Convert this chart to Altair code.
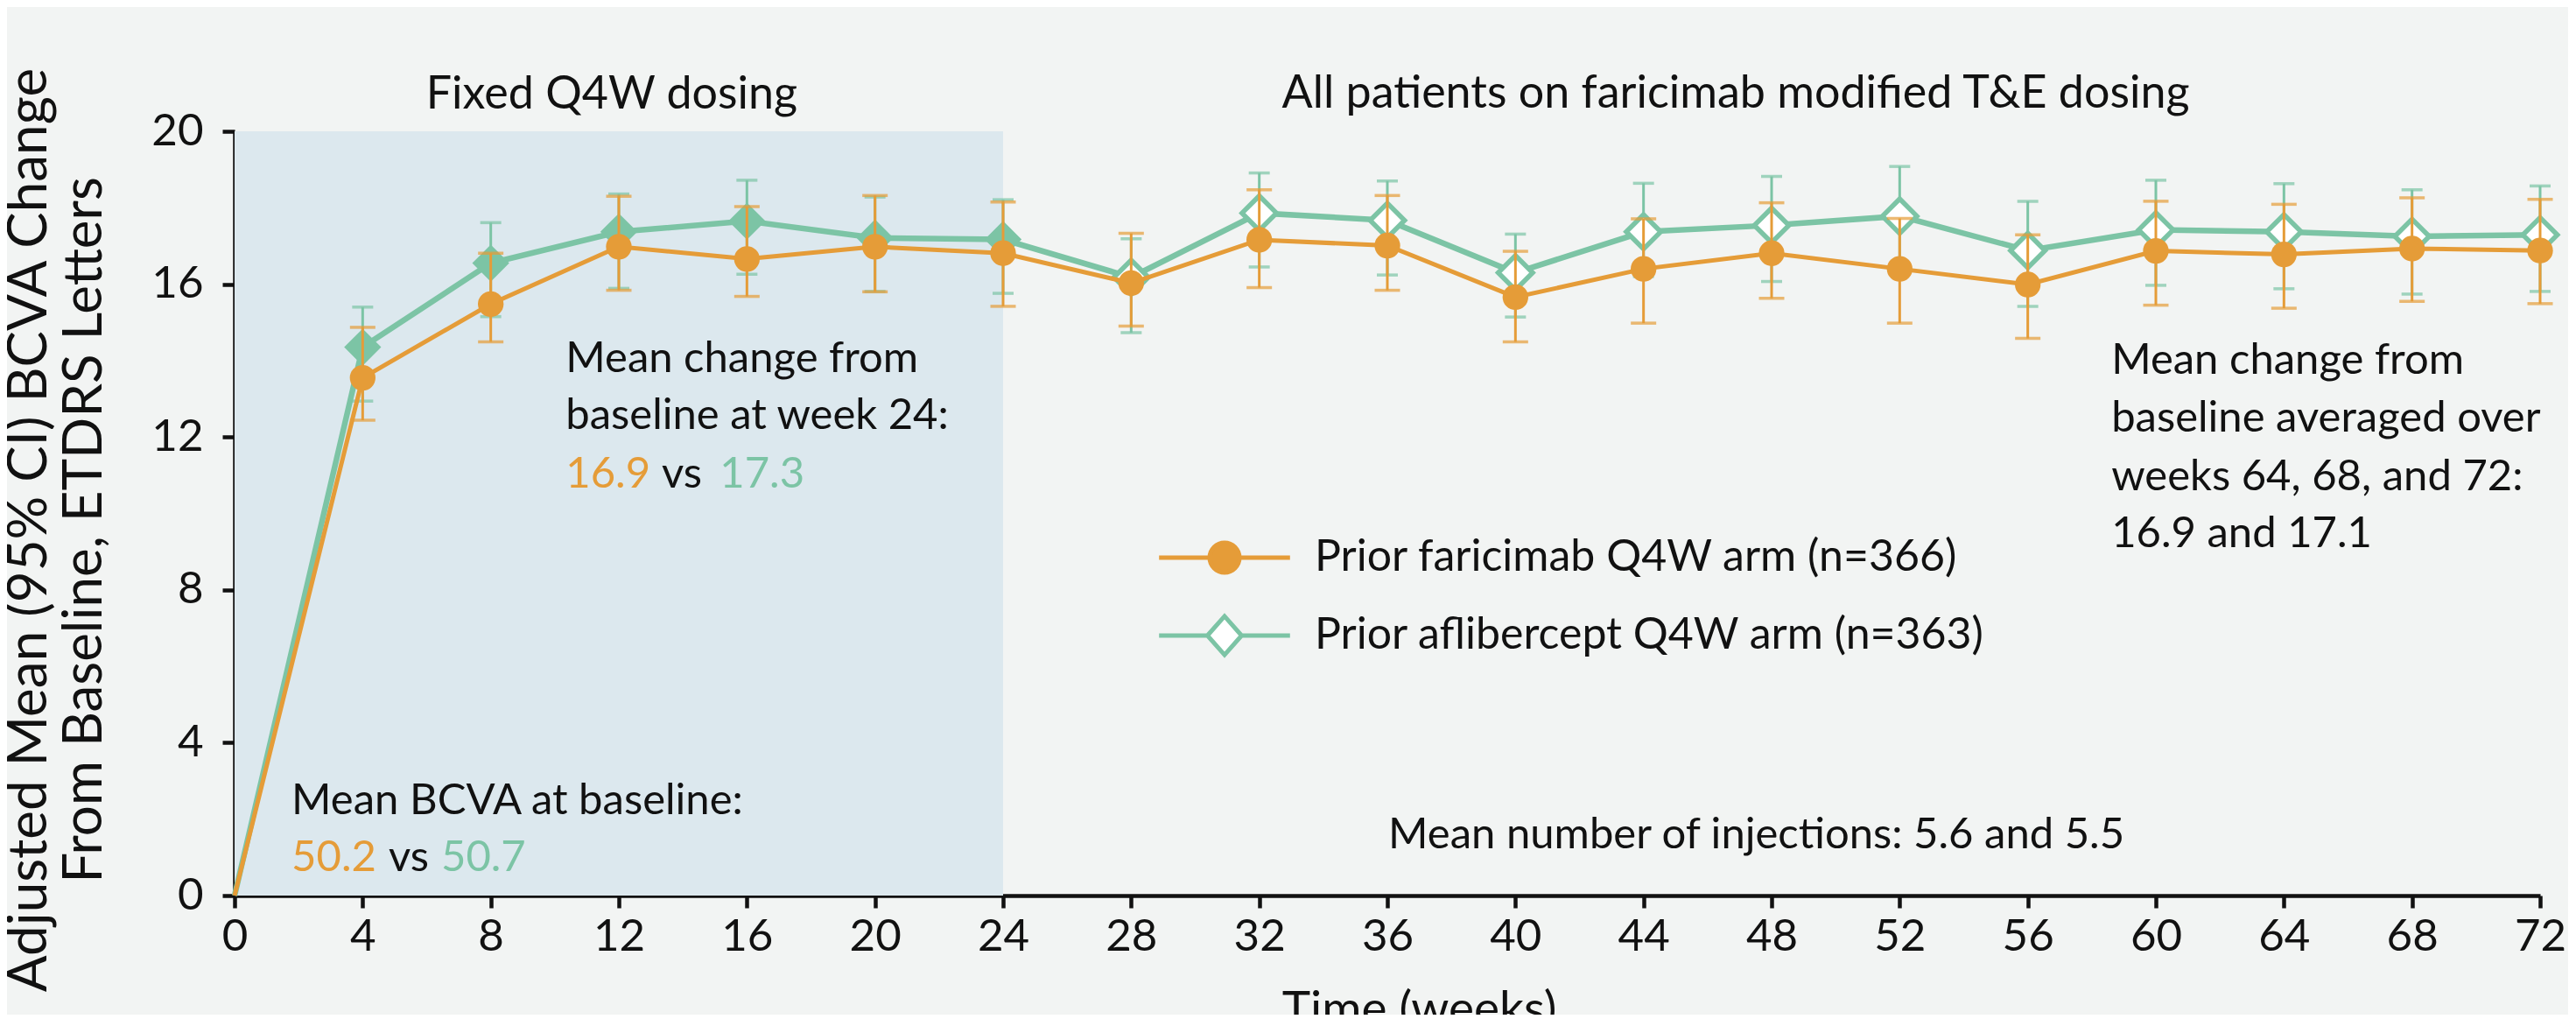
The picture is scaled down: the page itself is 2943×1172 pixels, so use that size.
import math
import altair as alt
import pandas as pd

# ---------------- data ----------------
weeks = [0, 4, 8, 12, 16, 20, 24, 28, 32, 36, 40, 44, 48, 52, 56, 60, 64, 68, 72]

fari_mean = [0, 13.55, 15.48, 16.98, 16.66, 16.98, 16.81, 16.03, 17.16, 17.01, 15.66, 16.40, 16.81, 16.40, 15.99, 16.87, 16.78, 16.93, 16.88]
fari_lo = [None, 12.44, 14.49, 15.84, 15.68, 15.80, 15.42, 14.90, 15.91, 15.84, 14.49, 14.98, 15.63, 14.98, 14.58, 15.45, 15.37, 15.55, 15.49]
fari_hi = [None, 14.87, 16.81, 18.30, 18.03, 18.32, 18.15, 17.33, 18.47, 18.32, 16.86, 17.71, 18.13, 17.72, 17.29, 18.17, 18.09, 18.26, 18.22]

afli_mean = [0, 14.35, 16.55, 17.37, 17.65, 17.21, 17.17, 16.18, 17.86, 17.67, 16.30, 17.37, 17.54, 17.78, 16.88, 17.42, 17.37, 17.25, 17.29]
afli_lo = [None, 12.94, 15.15, 15.89, 16.26, 15.81, 15.76, 14.73, 16.45, 16.24, 15.14, 16.20, 16.07, 16.45, 15.42, 15.97, 15.88, 15.74, 15.81]
afli_hi = [None, 15.40, 17.61, 18.36, 18.72, 18.28, 18.21, 17.19, 18.91, 18.70, 17.31, 18.64, 18.82, 19.08, 18.17, 18.72, 18.63, 18.47, 18.57]

FARI = "Prior faricimab Q4W arm (n=366)"
AFLI = "Prior aflibercept Q4W arm (n=363)"
series_names = [FARI, AFLI]

fixed_phase = [0, 24]          # weeks of fixed Q4W dosing
y_range = [0, 20]

ann_black_text = ["Mean change from", "baseline at week 24:", "vs",
                  "Mean BCVA at baseline:", "vs",
                  "Mean number of injections: 5.6 and 5.5",
                  "Mean change from", "baseline averaged over",
                  "weeks 64, 68, and 72:", "16.9 and 17.1"]
ann_black_x = [10.34, 10.34, 13.34, 1.78, 4.81, 36.03, 58.61, 58.61, 58.61, 58.61]
ann_black_y = [13.70, 12.21, 10.68, 2.12, 0.64, 1.24, 13.65, 12.14, 10.61, 9.12]

ann_col_text = ["16.9", "17.3", "50.2", "50.7"]
ann_col_x = [10.34, 15.15, 1.78, 6.45]
ann_col_y = [10.68, 10.68, 0.64, 0.64]
ann_col_series = [FARI, AFLI, FARI, AFLI]

head_text = ["Fixed Q4W dosing", "All patients on faricimab modified T&E dosing"]
head_x = [11.78, 46.88]
head_y = [20.60, 20.62]

# ---------------- styling ----------------
ORANGE = "#e59c38"
TEAL = "#7cc4a5"
SHADE = "#dce8ee"
BG = "#f2f4f3"
INK = "#111111"
FONT = "Lato"

rows = []
for i, w in enumerate(weeks):
    rows.append(dict(week=w, series=FARI, mean=fari_mean[i], lo=fari_lo[i], hi=fari_hi[i]))
    rows.append(dict(week=w, series=AFLI, mean=afli_mean[i], lo=afli_lo[i], hi=afli_hi[i]))
df = pd.DataFrame(rows)

shade_df = pd.DataFrame({"x0": [fixed_phase[0]], "x1": [fixed_phase[1]],
                         "y0": [y_range[0]], "y1": [y_range[1]]})
black_df = pd.DataFrame({"text": ann_black_text, "x": ann_black_x, "y": ann_black_y})
col_df = pd.DataFrame({"text": ann_col_text, "x": ann_col_x, "y": ann_col_y, "series": ann_col_series})
head_df = pd.DataFrame({"text": head_text, "x": head_x, "y": head_y})

xscale = alt.Scale(domain=[0, 72], nice=False, zero=False)
yscale = alt.Scale(domain=y_range, nice=False)

xaxis = alt.Axis(values=list(range(0, 73, 4)), format="d", grid=False,
                 domainColor=INK, domainWidth=4.5, tickColor=INK, tickWidth=4.5, tickSize=14,
                 labelFont=FONT, labelFontSize=51, labelColor=INK, labelPadding=8,
                 labelOverlap=False, labelFlush=False,
                 title="Time (weeks)", titleFont=FONT, titleFontSize=55, titleFontWeight="normal",
                 titleColor=INK, titleX=1353, titleY=104, titleBaseline="top", titleAlign="center")
yaxis = alt.Axis(values=[0, 4, 8, 12, 16, 20], format="d", grid=False,
                 domainColor=INK, domainWidth=4.5, tickColor=INK, tickWidth=4.5, tickSize=14,
                 labelFont=FONT, labelFontSize=51, labelColor=INK, labelPadding=22,
                 labelOverlap=False, labelFlush=False,
                 title=["Adjusted Mean (95% CI) BCVA Change", "From Baseline, ETDRS Letters"],
                 titleFont=FONT, titleFontSize=62, titleFontWeight="normal", titleColor=INK,
                 titleLineHeight=63, titleAngle=270, titleX=-235, titleY=455,
                 titleBaseline="middle", titleAlign="center")


def X(field):
    return alt.X(field, type="quantitative", scale=xscale, axis=xaxis)


def Y(field):
    return alt.Y(field, type="quantitative", scale=yscale, axis=yaxis)


base = alt.Chart(df)

shade = alt.Chart(shade_df).mark_rect(color=SHADE).encode(
    x=X("x0"), x2="x1", y=Y("y0"), y2="y1")


def series_layers(name, color, line_w, cap):
    sub = base.transform_filter(alt.datum.series == name)
    line = sub.mark_line(color=color, strokeWidth=line_w).encode(x=X("week"), y=Y("mean"))
    ci = sub.transform_filter(alt.datum.week > 0)
    rule = ci.mark_rule(color=color, strokeWidth=3).encode(x=X("week"), y=Y("lo"), y2="hi")
    cap_lo = ci.mark_tick(color=color, orient="horizontal", size=cap, thickness=3.5).encode(
        x=X("week"), y=Y("lo"))
    cap_hi = ci.mark_tick(color=color, orient="horizontal", size=cap, thickness=3.5).encode(
        x=X("week"), y=Y("hi"))
    return line, rule, cap_lo, cap_hi, ci


t_line, t_rule, t_lo, t_hi, t_ci = series_layers(AFLI, TEAL, 6.5, 24)
o_line, o_rule, o_lo, o_hi, o_ci = series_layers(FARI, ORANGE, 5, 29)

t_open = t_ci.transform_filter(alt.datum.week > 24).mark_point(
    shape="diamond", filled=True, fill="white", stroke=TEAL, strokeWidth=5.5, size=1550, opacity=1
).encode(x=X("week"), y=Y("mean"))
t_full = t_ci.transform_filter(alt.datum.week <= 24).mark_point(
    shape="diamond", filled=True, fill=TEAL, stroke=TEAL, strokeWidth=3, size=1450, opacity=1
).encode(x=X("week"), y=Y("mean"))
o_pts = o_ci.mark_point(shape="circle", filled=True, color=ORANGE, size=860, opacity=1).encode(
    x=X("week"), y=Y("mean"))

# legend symbols: a line with the series marker on it (unit path, scaled by symbolSize)
circ = "".join(("M" if k == 0 else "L") + f"{math.cos(2 * math.pi * k / 32):.3f},{math.sin(2 * math.pi * k / 32):.3f}"
               for k in range(32)) + "Z"
PATH_F = "M-4.4,0L4.4,0" + circ
PATH_A = "M-4.4,0L-1.15,0M1.15,0L4.4,0M-1.15,0L0,-1.3L1.15,0L0,1.3Z"


def leg():
    return alt.Legend(orient="none", legendX=1106, legendY=462, title=None,
                      labelFont=FONT, labelFontSize=50, labelColor=INK, labelLimit=3000,
                      symbolOffset=0, labelOffset=78, rowPadding=29, padding=0,
                      symbolStrokeWidth=5, symbolSize=1156, symbolOpacity=1)


legend_layer = o_ci.mark_point(filled=True, strokeWidth=5, opacity=0, size=1).encode(
    x=X("week"), y=Y("mean"),
    shape=alt.Shape("series:N", scale=alt.Scale(domain=series_names, range=[PATH_F, PATH_A]), legend=leg()),
    fill=alt.Fill("series:N", scale=alt.Scale(domain=series_names, range=[ORANGE, "white"]), legend=leg()),
    stroke=alt.Stroke("series:N", scale=alt.Scale(domain=series_names, range=[ORANGE, TEAL]), legend=leg()),
)

black_txt = alt.Chart(black_df).mark_text(font=FONT, fontSize=49, color=INK, align="left",
                                          baseline="alphabetic").encode(
    x=X("x"), y=Y("y"), text="text:N")


def col_txt(name, color):
    return alt.Chart(col_df).transform_filter(alt.datum.series == name).mark_text(
        font=FONT, fontSize=49, align="left", baseline="alphabetic", color=color).encode(
        x=X("x"), y=Y("y"), text="text:N")


head_txt = alt.Chart(head_df).mark_text(font=FONT, fontSize=52, color=INK, align="center",
                                        baseline="alphabetic").encode(
    x=X("x"), y=Y("y"), text="text:N")

chart = alt.layer(
    shade, t_line, t_rule, t_lo, t_hi, t_open, t_full,
    o_line, o_rule, o_lo, o_hi, o_pts,
    black_txt, col_txt(FARI, ORANGE), col_txt(AFLI, TEAL), head_txt, legend_layer
).properties(
    width=2634, height=873,
    autosize=alt.AutoSizeParams(type="none"),
    padding={"left": 260, "top": 142, "right": 32, "bottom": 136},
    background=BG,
).configure_view(stroke=None)

chart.save("out.html", embed_options={"renderer": "svg", "actions": False})
